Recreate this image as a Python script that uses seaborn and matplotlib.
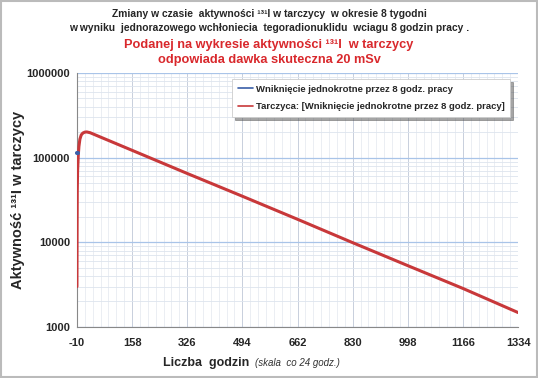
import numpy as np
import pandas as pd
import matplotlib
matplotlib.use("Agg")
import matplotlib.pyplot as plt
import matplotlib.ticker as mticker
import seaborn as sns

sns.set_theme(style="white")
plt.rcParams['font.family'] = ['Liberation Sans', 'DejaVu Sans']
plt.rcParams['axes.unicode_minus'] = False

# hours after intake vs. 131I activity in thyroid
hours = [-10, -9.5, -9, -8, -6, -4, -1, 3, 8, 14, 20, 30, 60,
         158, 326, 494, 662, 830, 998, 1166, 1334]
activity = [3000, 15000, 40000, 70000, 105000, 135000, 165000, 185000, 195000, 200000, 201000,
            197000, 176000, 122000, 65000, 35000, 18700, 9900, 5300, 2850, 1480]

intake_hours = [-11, -8]
intake_activity = [113000, 113000]

label_intake = "Wniknięcie jednokrotne przez 8 godz. pracy"
label_thyroid = "Tarczyca: [Wniknięcie jednokrotne przez 8 godz. pracy]"

xticks = [-10, 158, 326, 494, 662, 830, 998, 1166, 1334]

df_t = pd.DataFrame({"h": hours, "a": activity})
df_i = pd.DataFrame({"h": intake_hours, "a": intake_activity})

fig = plt.figure(figsize=(5.38, 3.78), dpi=100)
fig.patch.set_facecolor("white")
ax = fig.add_axes([0.143, 0.135, 0.820, 0.672])

sns.lineplot(data=df_i, x="h", y="a", ax=ax, color="#3a5fa8", lw=3, label=label_intake,
             zorder=5, clip_on=False)
sns.lineplot(data=df_t, x="h", y="a", ax=ax, color="#c8383a", lw=2.2, label=label_thyroid,
             zorder=4)

ax.set_yscale("log")
ax.set_ylim(1000, 1000000)
ax.set_xlim(-10, 1334)
ax.set_xticks(xticks)
ax.xaxis.set_minor_locator(mticker.FixedLocator(np.arange(-10, 1335, 24)))
ax.yaxis.set_major_formatter(mticker.FuncFormatter(lambda v, p: "%d" % v))
ax.yaxis.set_minor_formatter(mticker.NullFormatter())
ax.yaxis.set_minor_locator(mticker.LogLocator(base=10, subs=np.arange(2, 10)))

ax.grid(True, which="major", axis="y", color="#a9c4e8", lw=0.9)
ax.grid(True, which="minor", axis="y", color="#dde4ee", lw=0.6)
ax.grid(True, which="major", axis="x", color="#c8cfdc", lw=0.7)
ax.grid(True, which="minor", axis="x", color="#e3e7ee", lw=0.5)

for s in ["top", "right"]:
    ax.spines[s].set_visible(False)
for s in ["left", "bottom"]:
    ax.spines[s].set_color("#888888")
    ax.spines[s].set_linewidth(0.8)

ax.tick_params(axis="x", which="major", labelsize=8, length=4, color="#777777",
               direction="inout", pad=6)
ax.tick_params(axis="y", which="major", labelsize=8, length=4, color="#777777",
               direction="inout", pad=3)
ax.tick_params(axis="y", which="minor", length=3, color="#777777", direction="inout")
ax.tick_params(axis="x", which="minor", length=3, color="#999999", direction="in")
for t in ax.get_xticklabels() + ax.get_yticklabels():
    t.set_fontweight("bold")
ax.set_xlabel("")
ax.set_ylabel("")
fig.text(0.033, 0.47, "Aktywność ¹³¹I w tarczycy", rotation=90, ha="center", va="center",
         fontsize=10.5, fontweight="bold")

leg = ax.legend(loc="upper right", bbox_to_anchor=(0.993, 0.995), fontsize=6.8, frameon=True,
                fancybox=False, shadow=True, handlelength=1.6, handletextpad=0.3,
                borderpad=0.6, labelspacing=0.9)
leg.get_frame().set_edgecolor("#cccccc")
leg.get_frame().set_linewidth(0.6)
for t in leg.get_texts():
    t.set_fontweight("bold")
for l in leg.get_lines():
    l.set_linewidth(1.2)

fig.text(0.5, 0.962, "Zmiany w czasie  aktywności ¹³¹I w tarczycy  w okresie 8 tygodni",
         ha="center", va="center", fontsize=7.4, fontweight="bold")
fig.text(0.5, 0.925, "w wyniku  jednorazowego wchłoniecia  tegoradionuklidu  wciagu 8 godzin pracy .",
         ha="center", va="center", fontsize=7.4, fontweight="bold")
fig.text(0.5, 0.882, "Podanej na wykresie aktywności ¹³¹I  w tarczycy",
         ha="center", va="center", fontsize=9.2, fontweight="bold", color="#d9282c")
fig.text(0.5, 0.840, "odpowiada dawka skuteczna 20 mSv",
         ha="center", va="center", fontsize=9.2, fontweight="bold", color="#d9282c")

fig.text(0.463, 0.04, "Liczba  godzin", ha="right", va="center", fontsize=9, fontweight="bold")
fig.text(0.474, 0.04, "(skala  co 24 godz.)", ha="left", va="center", fontsize=7,
         style="italic", color="#333333")

border = plt.Rectangle((0.002, 0.003), 0.996, 0.994, transform=fig.transFigure, fill=False,
                       edgecolor="#bbbbbb", lw=1.5)
fig.patches.append(border)

fig.savefig("out.png", dpi=100)
